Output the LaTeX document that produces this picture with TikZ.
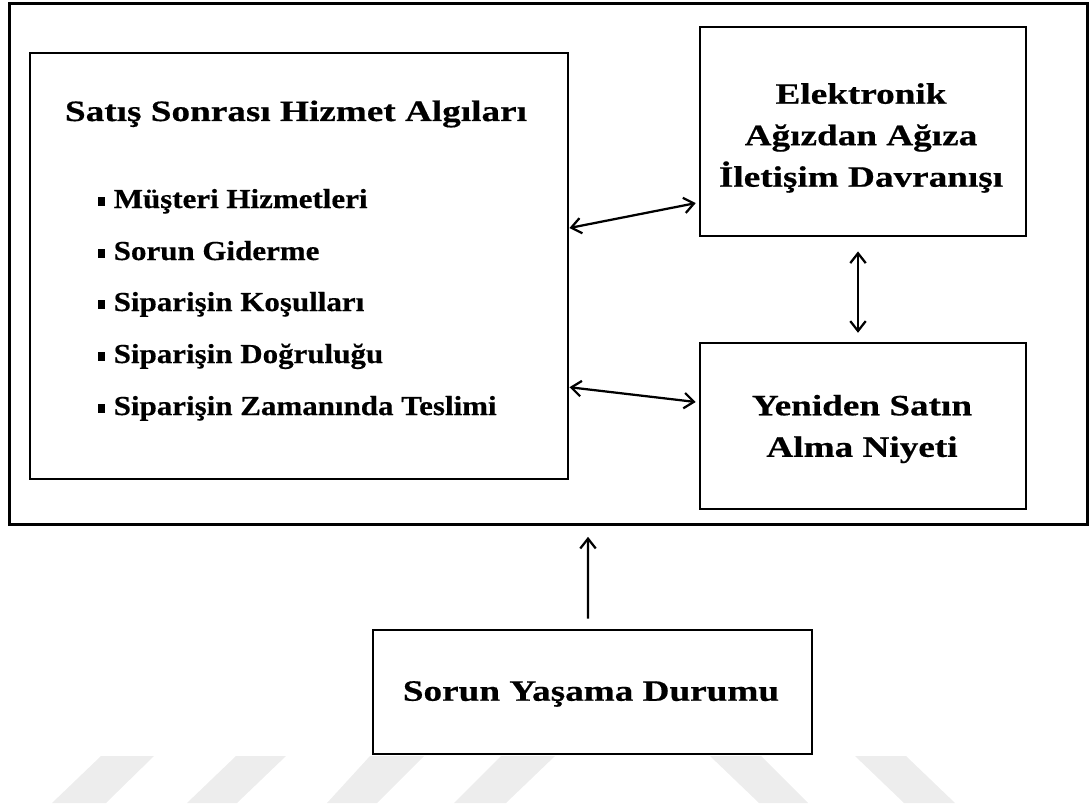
\documentclass[tikz,border=0pt]{standalone}
\usepackage{fontspec}
\setmainfont{Liberation Serif}
\newfontfamily\kutufont[FakeStretch=1.26, FakeBold=0.5]{Liberation Serif}
\newfontfamily\maddefont[FakeStretch=1.13, FakeBold=0.5]{Liberation Serif}
\usepackage{tikz}
\usetikzlibrary{arrows.meta}

\tikzset{
  kutu/.style={rectangle, draw, line width=2pt, minimum width=#1},
  yazi/.style={font=\kutufont\bfseries\fontsize{21}{29.5}\selectfont, align=center},
  madde/.style={font=\maddefont\bfseries\fontsize{19.5}{22}\selectfont, anchor=base west, inner sep=0pt},
  okcift/.style={{Straight Barb[length=7pt,width=11pt]}-{Straight Barb[length=7pt,width=11pt]}, line width=1.6pt},
  oktek/.style={-{Straight Barb[length=7pt,width=11pt]}, line width=1.6pt}
}
\newcommand{\kare}{\rule[1.5pt]{5pt}{6pt}\hspace{6pt}}

\begin{document}
\begin{tikzpicture}[x=0.025cm, y=-0.025cm]
\useasboundingbox (0,0) rectangle (1092,808);

% watermark stripes
\fill[black!7] (52,803) -- (101,756) -- (154,756) -- (106,803) -- cycle;
\fill[black!7] (187,803) -- (236,756) -- (286,756) -- (237,803) -- cycle;
\fill[black!7] (327,803) -- (370,756) -- (424,756) -- (377,803) -- cycle;
\fill[black!7] (454,803) -- (501,756) -- (555,756) -- (506,803) -- cycle;
\fill[black!7] (759,803) -- (710,756) -- (761,756) -- (808,803) -- cycle;
\fill[black!7] (904,803) -- (855,756) -- (906,756) -- (955,803) -- cycle;

\node[kutu=26.925cm, minimum height=13cm, line width=2.2pt] (cerceve) at (548.5,264) {};

\node[kutu=13.45cm, minimum height=10.65cm] (algi) at (299,266) {};
\node[yazi, anchor=base] (baslik) at (296,121) {Satış Sonrası Hizmet Algıları};

\node[madde] (m1) at (98,208) {\kare Müşteri Hizmetleri};
\node[madde] (m2) at (98,260) {\kare Sorun Giderme};
\node[madde] (m3) at (98,311) {\kare Siparişin Koşulları};
\node[madde] (m4) at (98,363) {\kare Siparişin Doğruluğu};
\node[madde] (m5) at (98,415) {\kare Siparişin Zamanında Teslimi};

\node[kutu=8.15cm, minimum height=5.225cm] (elek) at (863,131.5) {};
\node[yazi] at (861,138) {Elektronik\\Ağızdan Ağıza\\İletişim Davranışı};

\node[kutu=8.15cm, minimum height=4.15cm] (yeni) at (863,426) {};
\node[yazi] at (862,429) {Yeniden Satın\\Alma Niyeti};

\node[kutu=10.975cm, minimum height=3.1cm] (sorun) at (592.5,692) {};
\node[yazi] at (591,694) {Sorun Yaşama Durumu};

\draw[okcift] ([yshift=0.95cm]algi.east) -- ([yshift=-1.79cm, xshift=-2pt]elek.west);
\draw[okcift] ([yshift=-3.03cm]algi.east) -- ([yshift=0.6cm, xshift=-2pt]yeni.west);
\draw[okcift] ([xshift=-0.125cm, yshift=-0.35cm]elek.south) -- ([xshift=-0.125cm, yshift=0.22cm]yeni.north);
\draw[oktek] ([xshift=-0.1125cm, yshift=0.25cm]sorun.north) -- ([xshift=0.9875cm, yshift=-0.28cm]cerceve.south);

\end{tikzpicture}
\end{document}
